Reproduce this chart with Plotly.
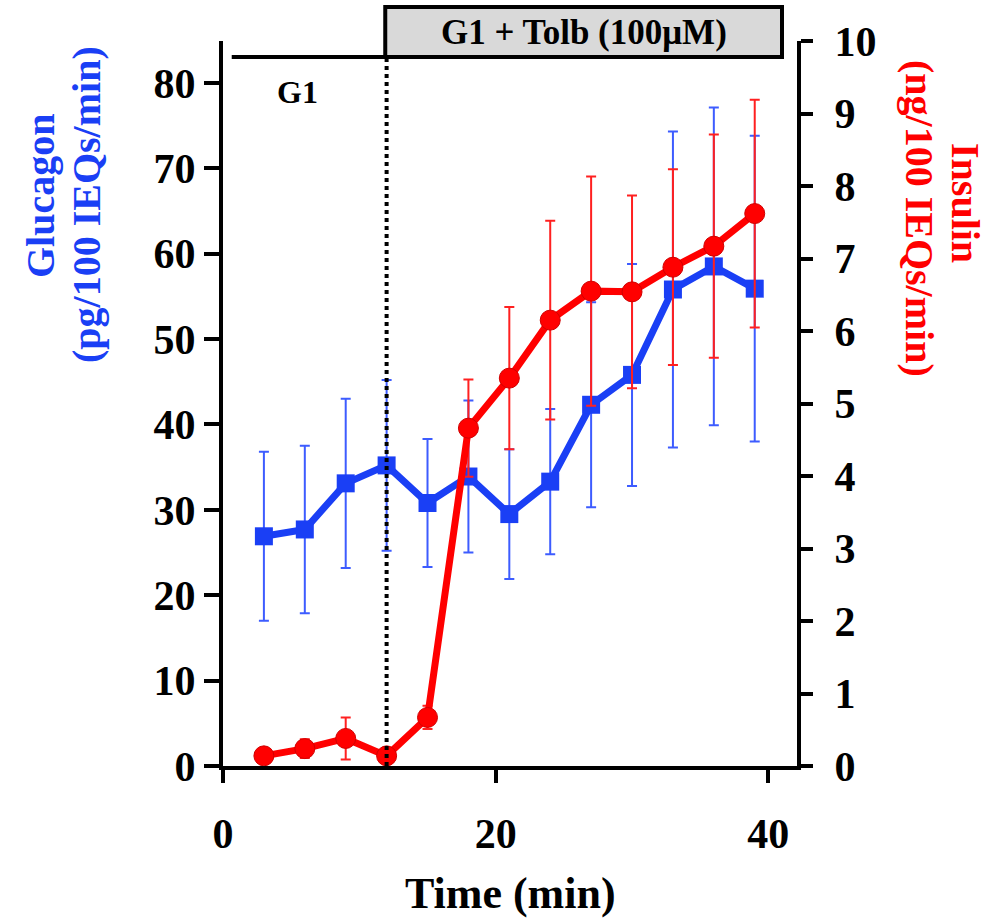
import plotly.graph_objects as go

# ---- data ----
time_min = [3, 6, 9, 12, 15, 18, 21, 24, 27, 30, 33, 36, 39]
glucagon = [26.9, 27.7, 33.1, 35.2, 30.8, 33.9, 29.5, 33.3, 42.3, 45.8, 55.8, 58.5, 55.9]
glucagon_err = [9.9, 9.8, 9.9, 10.0, 7.5, 8.9, 7.6, 8.5, 12.0, 13.0, 18.5, 18.6, 17.9]
insulin = [0.14, 0.24, 0.38, 0.14, 0.67, 4.66, 5.35, 6.15, 6.55, 6.54, 6.88, 7.17, 7.62]
insulin_err = [0.05, 0.13, 0.29, 0.04, 0.16, 0.67, 0.98, 1.37, 1.58, 1.33, 1.35, 1.54, 1.57]

x_ticks = [0, 20, 40]
glucagon_ticks = [0, 10, 20, 30, 40, 50, 60, 70, 80]
insulin_ticks = list(range(0, 11))

g1_start, tolb_start, tolb_end = 0.64, 11.9, 41.0
switch_time = 12

BLUE = "#1a3ff5"
BLUE_ERR = "#3d5cff"
RED = "#ff0000"
FONT = "Liberation Serif"

W, H = 998, 922
L, R, T, B = 223, 201, 41, 156
pw, ph = W - L - R, H - T - B


def px(xp):
    return (xp - L) / pw


def py(yp):
    return (H - B - yp) / ph


fig = go.Figure()

fig.add_trace(go.Scatter(
    x=time_min, y=glucagon, mode="lines+markers", name="Glucagon",
    line=dict(color=BLUE, width=7),
    marker=dict(symbol="square", size=18, color=BLUE),
    error_y=dict(type="data", array=glucagon_err, visible=True,
                 color=BLUE_ERR, thickness=2, width=5),
    yaxis="y", cliponaxis=False,
))

fig.add_trace(go.Scatter(
    x=time_min, y=insulin, mode="lines+markers", name="Insulin",
    line=dict(color=RED, width=7),
    marker=dict(symbol="circle", size=20, color=RED,
                line=dict(color="#d00000", width=1)),
    error_y=dict(type="data", array=insulin_err, visible=True,
                 color="#ff2020", thickness=2, width=5),
    yaxis="y2", cliponaxis=False,
))

tickfont = dict(family=FONT, size=42, color="black", weight="bold")

fig.update_layout(
    width=W, height=H,
    margin=dict(l=L, r=R, t=T, b=B, autoexpand=False),
    paper_bgcolor="white", plot_bgcolor="white",
    showlegend=False,
    xaxis=dict(range=[0, 42.1], tickvals=x_ticks, ticks="outside", ticklen=13,
               tickwidth=4, tickcolor="black", showline=True, linewidth=4,
               linecolor="black", showgrid=False, zeroline=False,
               tickfont=tickfont, ticklabelstandoff=15),
    yaxis=dict(range=[0, 84.9], tickvals=glucagon_ticks, ticks="outside",
               ticklen=15, tickwidth=4, tickcolor="black", showline=True,
               linewidth=4, linecolor="black", showgrid=False, zeroline=False,
               tickfont=tickfont, ticklabelstandoff=0),
    yaxis2=dict(range=[0, 10], tickvals=insulin_ticks, overlaying="y",
                side="right", anchor="x", ticks="outside", ticklen=12,
                tickwidth=4, tickcolor="black", showline=True, linewidth=4,
                linecolor="black", showgrid=False, zeroline=False,
                tickfont=tickfont, ticklabelstandoff=13),
)

# phase annotations
fig.add_shape(type="rect", xref="x", yref="paper", x0=tolb_start, x1=tolb_end,
              y0=py(57), y1=py(7), fillcolor="#d9d9d9",
              line=dict(color="black", width=4), layer="above")
fig.add_shape(type="line", xref="x", yref="paper", x0=g1_start, x1=tolb_start,
              y0=py(57), y1=py(57), line=dict(color="black", width=4))
fig.add_shape(type="line", xref="x", yref="paper", x0=switch_time, x1=switch_time,
              y0=0, y1=py(59), line=dict(color="black", width=4, dash="dot"))

fig.add_annotation(text="G1 + Tolb (100μM)", xref="x", yref="paper",
                   x=(tolb_start + tolb_end) / 2, y=py(32), showarrow=False,
                   font=dict(family=FONT, size=35, color="black", weight="bold"),
                   xanchor="center", yanchor="middle")
fig.add_annotation(text="G1", xref="paper", yref="paper", x=px(297), y=py(92),
                   showarrow=False,
                   font=dict(family=FONT, size=32, color="black", weight="bold"),
                   xanchor="center", yanchor="middle")

# axis titles
title_font_b = dict(family=FONT, size=40, color=BLUE, weight="bold")
title_font_r = dict(family=FONT, size=40, color=RED, weight="bold")
fig.add_annotation(text="Glucagon", xref="paper", yref="paper", x=px(40), y=py(196),
                   textangle=-90, showarrow=False, font=title_font_b,
                   xanchor="center", yanchor="middle")
fig.add_annotation(text="(pg/100 IEQs/min)", xref="paper", yref="paper", x=px(87),
                   y=py(205), textangle=-90, showarrow=False, font=title_font_b,
                   xanchor="center", yanchor="middle")
fig.add_annotation(text="Insulin", xref="paper", yref="paper", x=px(965), y=py(203),
                   textangle=90, showarrow=False, font=title_font_r,
                   xanchor="center", yanchor="middle")
fig.add_annotation(text="(ng/100 IEQs/min)", xref="paper", yref="paper", x=px(920),
                   y=py(218), textangle=90, showarrow=False, font=title_font_r,
                   xanchor="center", yanchor="middle")
fig.add_annotation(text="Time (min)", xref="paper", yref="paper", x=px(510), y=py(893),
                   showarrow=False,
                   font=dict(family=FONT, size=44, color="black", weight="bold"),
                   xanchor="center", yanchor="middle")

fig.write_html("out.html")
